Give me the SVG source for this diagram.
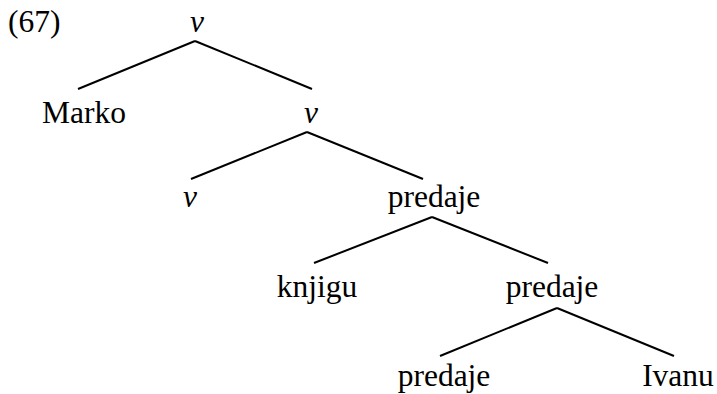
<svg xmlns="http://www.w3.org/2000/svg" width="717" height="394" viewBox="0 0 717 394">
<style>
text{font-family:'Liberation Serif','Times New Roman',serif;font-size:31.5px;fill:#000;text-anchor:middle}
.it{font-style:italic}
line{stroke:#000;stroke-width:2;stroke-linecap:butt}
</style>
<rect width="717" height="394" fill="#fff"/>
<text x="8" y="32" style="text-anchor:start">(67)</text>
<g id="n_v1"><text class="it" x="197" y="32">v</text></g>
<g id="n_marko"><text x="84" y="123">Marko</text></g>
<g id="n_v2"><text class="it" x="311" y="123">v</text></g>
<g id="n_v3"><text class="it" x="190" y="207">v</text></g>
<g id="n_predaje1"><text x="434" y="207">predaje</text></g>
<g id="n_knjigu"><text x="317" y="297">knjigu</text></g>
<g id="n_predaje2"><text x="552" y="297">predaje</text></g>
<g id="n_predaje3"><text x="444" y="386">predaje</text></g>
<g id="n_ivanu"><text x="678" y="386">Ivanu</text></g>
<g id="connectors">
<line x1="195" y1="41" x2="78" y2="89"/>
<line x1="195" y1="41" x2="312" y2="89"/>
<line x1="307" y1="132" x2="191" y2="179"/>
<line x1="307" y1="132" x2="423" y2="179"/>
<line x1="432" y1="217" x2="314" y2="263"/>
<line x1="432" y1="217" x2="548" y2="263"/>
<line x1="557" y1="308" x2="440" y2="356"/>
<line x1="557" y1="308" x2="674" y2="356"/>
</g>
</svg>
